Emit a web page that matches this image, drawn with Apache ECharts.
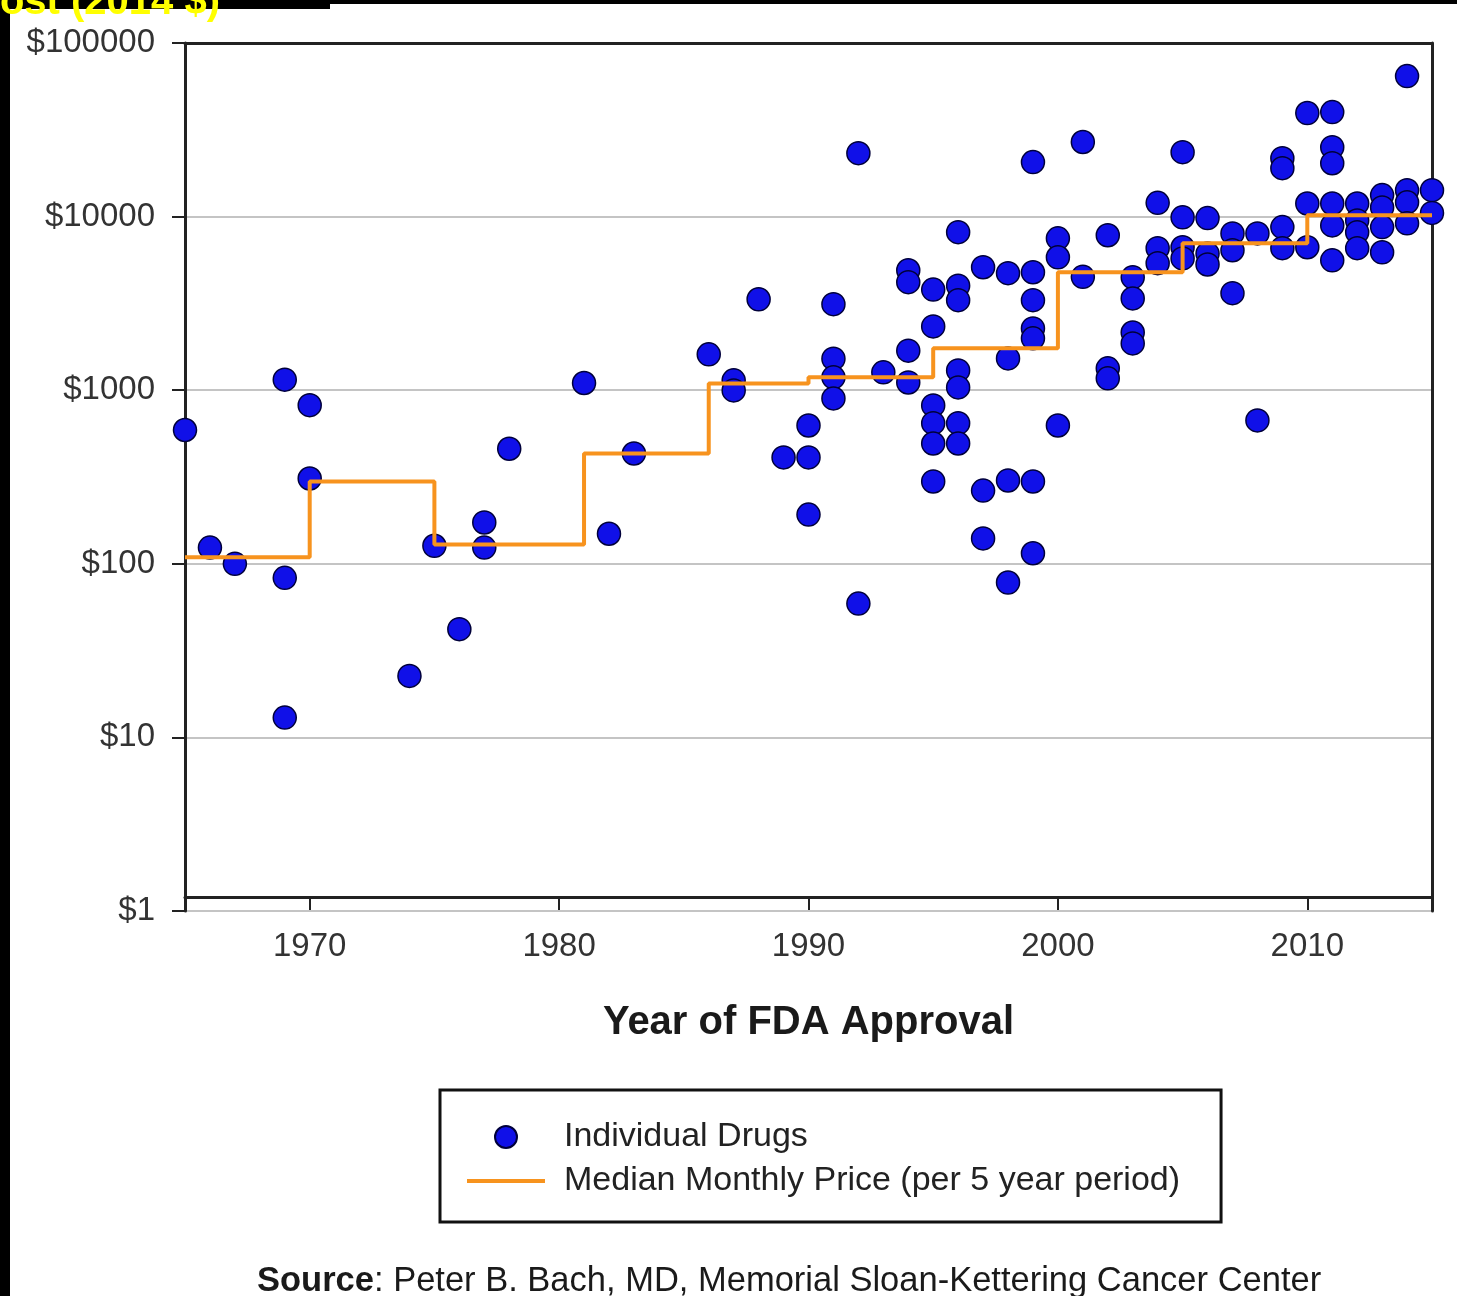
<!DOCTYPE html>
<html>
<head>
<meta charset="utf-8">
<title>Monthly cost of cancer drugs at FDA approval</title>
<script src="https://cdn.jsdelivr.net/npm/echarts@6/dist/echarts.min.js"></script>
<style>
  html, body { margin: 0; padding: 0; background: #ffffff; }
  #chart { width: 1457px; height: 1296px; }
</style>
</head>
<body>
<div id="chart"></div>
<script>
// Axis ticks
const yearTicks = [1970, 1980, 1990, 2000, 2010];
const priceTicks = [1, 10, 100, 1000, 10000, 100000];

// Individual drugs: approval year and monthly price (2014 $)
const drugYears = [
  1965, 1966, 1967,
  1969, 1969, 1969,
  1970, 1970,
  1974, 1975, 1976, 1977, 1977, 1978,
  1981, 1982, 1983,
  1986, 1987, 1987, 1988, 1989,
  1990, 1990, 1990,
  1991, 1991, 1991, 1991,
  1992, 1992, 1993,
  1994, 1994, 1994, 1994,
  1995, 1995, 1995, 1995, 1995, 1995,
  1996, 1996, 1996, 1996, 1996, 1996, 1996,
  1997, 1997, 1997,
  1998, 1998, 1998, 1998,
  1999, 1999, 1999, 1999, 1999, 1999, 1999,
  2000, 2000, 2000,
  2001, 2001,
  2002, 2002, 2002,
  2003, 2003, 2003, 2003,
  2004, 2004, 2004,
  2005, 2005, 2005, 2005,
  2006, 2006, 2006,
  2007, 2007, 2007,
  2008, 2008,
  2009, 2009, 2009, 2009,
  2010, 2010, 2010,
  2011, 2011, 2011, 2011, 2011, 2011,
  2012, 2012, 2012, 2012,
  2013, 2013, 2013, 2013,
  2014, 2014, 2014, 2014,
  2015, 2015
];
const drugPrices = [
  590, 124, 100,
  1150, 83, 13,
  820, 310,
  22.6, 127, 42, 173, 124, 460,
  1100, 149, 432,
  1610, 1140, 997, 3340, 410,
  626, 410, 192,
  3130, 1520, 1186, 897,
  23200, 59, 1267,
  4910, 4190, 1690, 1108,
  3800, 2330, 817, 646, 493, 298,
  8130, 4000, 3300, 1300, 1038, 646, 493,
  5110, 264, 140,
  4720, 1525, 302, 78,
  20600, 4780, 3300, 2270, 1990, 298, 115,
  7500, 5830, 626,
  26900, 4500,
  7810, 1336, 1170,
  4470, 3380, 2150, 1860,
  12000, 6580, 5390,
  23500, 9900, 6660, 5740,
  9800, 6120, 5300,
  8000, 6400, 3620,
  8000, 670,
  21700, 19000, 8700, 6580,
  39500, 11900, 6660,
  40000, 25100, 20300, 11900, 8900, 5600,
  11900, 9500, 8130, 6580,
  13300, 11300, 8700, 6230,
  64500, 14200, 12100, 9150,
  14200, 10500
];

// Median monthly price per period (period start years)
const periodStarts = [1965, 1970, 1975, 1981, 1986, 1990, 1995, 2000, 2005, 2010];
const periodMedians = [109, 298, 129, 432, 1094, 1186, 1742, 4780, 7030, 10190];
const lastYear = 2015;

const FONT = '"Liberation Sans", Arial, Helvetica, sans-serif';
const BLUE = '#1010e8';
const ORANGE = '#f7931e';
const AXIS = '#222222';

const drugPoints = drugYears.map((y, i) => [y, drugPrices[i]]);
const medianSteps = periodStarts.map((y, i) => [y, periodMedians[i]]);
medianSteps.push([lastYear, periodMedians[periodMedians.length - 1]]);

const chart = echarts.init(document.getElementById('chart'), null, { renderer: 'canvas' });

chart.setOption({
  backgroundColor: '#ffffff',
  animation: false,
  textStyle: { fontFamily: FONT },
  grid: { left: 185, right: 25, top: 43, bottom: 385, containLabel: false },
  xAxis: [
    {
      type: 'value',
      min: 1965,
      max: lastYear,
      offset: -14,
      name: 'Year of FDA Approval',
      nameLocation: 'middle',
      nameGap: 106,
      nameTextStyle: { fontFamily: FONT, fontSize: 40, fontWeight: 'bold', color: '#1a1a1a' },
      axisLine: { onZero: false, lineStyle: { color: AXIS, width: 3 } },
      axisTick: { show: true, length: 13, customValues: yearTicks, lineStyle: { color: AXIS, width: 2 } },
      axisLabel: {
        customValues: yearTicks,
        margin: 33,
        fontSize: 33,
        color: '#333333',
        fontFamily: FONT,
        formatter: v => String(Math.round(v))
      },
      splitLine: { show: false }
    },
    {
      type: 'value',
      position: 'top',
      min: 1965,
      max: lastYear,
      axisLine: { onZero: false, lineStyle: { color: AXIS, width: 3 } },
      axisTick: { show: false },
      axisLabel: { show: false },
      splitLine: { show: false }
    }
  ],
  yAxis: [
    {
      type: 'log',
      logBase: 10,
      min: 1,
      max: 100000,
      axisLine: { show: true, onZero: false, lineStyle: { color: AXIS, width: 3 } },
      axisTick: { show: true, length: 13, lineStyle: { color: AXIS, width: 2 } },
      axisLabel: {
        margin: 30,
        fontSize: 33,
        color: '#333333',
        fontFamily: FONT,
        formatter: v => priceTicks.includes(Math.round(v)) ? '$' + Math.round(v) : ''
      },
      splitLine: { show: true, lineStyle: { color: '#c4c4c4', width: 2 } }
    },
    {
      type: 'log',
      logBase: 10,
      min: 1,
      max: 100000,
      position: 'right',
      axisLine: { show: true, onZero: false, lineStyle: { color: AXIS, width: 3 } },
      axisTick: { show: false },
      axisLabel: { show: false },
      splitLine: { show: false }
    }
  ],
  legend: {
    orient: 'vertical',
    left: 440,
    top: 1090,
    padding: [27, 41, 21, 25],
    itemWidth: 78,
    itemHeight: 22,
    itemGap: 4,
    borderColor: '#111111',
    borderWidth: 3,
    backgroundColor: '#ffffff',
    textStyle: { fontFamily: FONT, fontSize: 34, color: '#222222', lineHeight: 40, padding: [0, 0, 0, 14] },
    data: [
      { name: 'Individual Drugs', icon: 'circle' },
      {
        name: 'Median Monthly Price (per 5 year period)',
        itemStyle: { opacity: 0 },
        lineStyle: { width: 4, color: ORANGE }
      }
    ]
  },
  series: [
    {
      name: 'Individual Drugs',
      type: 'scatter',
      symbol: 'circle',
      symbolSize: 23,
      itemStyle: { color: BLUE, borderColor: '#00003a', borderWidth: 1.5, opacity: 1 },
      data: drugPoints,
      z: 3
    },
    {
      name: 'Median Monthly Price (per 5 year period)',
      type: 'line',
      step: 'end',
      symbol: 'none',
      showSymbol: false,
      lineStyle: { color: ORANGE, width: 4 },
      itemStyle: { color: ORANGE },
      data: medianSteps,
      z: 4
    }
  ],
  graphic: [
    { type: 'rect', left: 0, top: 0, shape: { width: 1457, height: 4 }, style: { fill: '#000000' }, z: 10 },
    { type: 'rect', left: 0, top: 0, shape: { width: 330, height: 9 }, style: { fill: '#000000' }, z: 10 },
    { type: 'rect', left: 0, top: 0, shape: { width: 10, height: 1296 }, style: { fill: '#000000' }, z: 10 },
    {
      type: 'text',
      x: -29,
      y: 3,
      z: 11,
      style: {
        text: 'Cost (2014 $)',
        font: 'bold 40px ' + FONT,
        fill: '#ffff00',
        verticalAlign: 'middle'
      }
    },
    {
      type: 'text',
      x: 257,
      y: 1281,
      z: 11,
      style: {
        rich: {
          b: { fontFamily: FONT, fontSize: 34.5, fontWeight: 'bold', fill: '#1a1a1a' },
          r: { fontFamily: FONT, fontSize: 34.5, fill: '#1a1a1a' }
        },
        text: '{b|Source}{r|: Peter B. Bach, MD, Memorial Sloan-Kettering Cancer Center}',
        verticalAlign: 'middle'
      }
    }
  ]
});
</script>
</body>
</html>
